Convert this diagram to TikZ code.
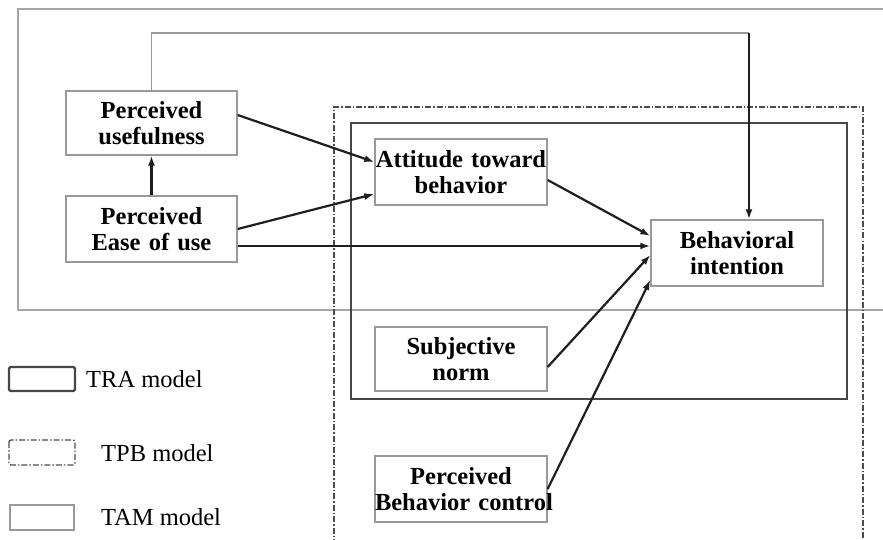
\documentclass[tikz,border=0pt]{standalone}
\usepackage{fontspec}
\setmainfont{Liberation Serif}
\usetikzlibrary{arrows.meta}
\begin{document}
\begin{tikzpicture}[x=1pt,y=-1pt,
  box/.style={draw=black!40,line width=1.3pt,inner sep=0pt,align=center,
    font=\bfseries\fontsize{24.5}{25.5}\selectfont},
  conn/.style={draw=black!88,line width=2.2pt,-{Latex[length=10pt,width=7pt]}},
  tamline/.style={draw=black!35,line width=1.5pt},
  traline/.style={draw=black!72,line width=2.2pt},
  tpbline/.style={draw=black!70,line width=1.7pt,dash pattern=on 6pt off 2pt on 1.5pt off 2pt},
  legtext/.style={anchor=west,inner sep=0pt,font=\fontsize{24.5}{26}\selectfont}]
\useasboundingbox (0,0) rectangle (883,540);
% TAM (outer, open to the right)
\draw[tamline] (883,9) -- (18,9) -- (18,310) -- (883,310);
% TPB
\draw[tpbline] (334,545) -- (334,107) -- (863,107) -- (863,545);
% TRA
\draw[traline] (351,123) rectangle (847,399);
% nodes
\node[box,text width=171pt,minimum height=64pt] (pu) at (151.5,123) {Perceived\\usefulness};
\node[box,text width=171pt,minimum height=66pt] (pe) at (151.5,229) {Perceived\\Ease of use};
\node[box,text width=172pt,minimum height=66pt] (at) at (461,172) {\mbox{Attitude toward}\\behavior};
\node[box,text width=172pt,minimum height=66pt] (bi) at (737,253) {Behavioral\\intention};
\node[box,text width=172pt,minimum height=64pt] (sn) at (461,359) {Subjective\\norm};
\node[box,text width=172pt,minimum height=66pt] (pb) at (461,489) {Perceived\\\mbox{Behavior control}};
% connectors
\draw[conn] (pe.north) -- (pu.south);
\draw[conn] ([yshift=8pt]pu.east) -- ([yshift=10pt]at.west);
\draw[conn] (pe.east) -- ([yshift=-22pt]at.west);
\draw[conn] ([yshift=-17pt]pe.east) -- ([yshift=7pt]bi.west);
\draw[conn] ([yshift=-8pt]at.east) -- ([yshift=17pt]bi.west);
\draw[conn] ([yshift=-8pt]sn.east) -- ([yshift=-2pt]bi.west);
\draw[conn] (pb.east) -- ([yshift=-27pt]bi.west);
\coordinate (c1) at (749,33);
\draw[draw=black!40,line width=1.4pt] (pu.north) |- (c1);
\draw[conn] (c1) -- (bi.north -| c1);
% legend
\draw[traline,rounded corners=1.5pt] (9,367) rectangle (75,391);
\node[legtext] (l1) at (86,379) {TRA model};
\draw[tpbline,line width=1.3pt,rounded corners=2pt] (9,440) rectangle (75,465);
\node[legtext] (l2) at (101,453) {TPB model};
\draw[draw=black!40,line width=1.3pt] (10,505) rectangle (74,530);
\node[legtext] (l3) at (101,517) {TAM model};
\end{tikzpicture}
\end{document}
